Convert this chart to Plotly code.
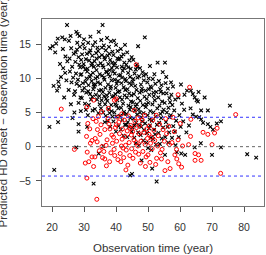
import plotly.graph_objects as go

# ---- data ----
black_pts = [
    (19.4,14.4),(20.2,14.7),(19.2,2.9),(20.7,-3.4),(21,13.8),(20.5,8.9),
    (21.3,15.1),(21.9,3.6),(22,9.5),(21.6,8.2),(22.2,8.8),(22.8,10.2),(22.5,12.1),(21.8,15.8),
    (23.2,16.0),(24,15.7),(24.7,17.8),(23.5,11.5),(24.2,13.2),(24.5,9.7),(23.8,7.2),(24.8,12.5),(24.1,10.8),(23.4,14.3),
    (25.3,15.5),(25.8,16.2),(26,14.4),(25.5,12.9),(26.3,11.7),(26.6,10.1),(25.2,8.3),(26.8,13.6),(26.1,9.4),(25.9,6.2),(26.9,7.6),(26.4,4.2),(25.6,11),
    (27,5),(27.6,-0.1),(28,16.5),(27.6,16.8),(28.6,16.2),(27.8,14.2),(28.3,13.1),(27.3,12.4),(28.8,11.6),(27.5,10.7),(28.1,9.8),(28.6,8.9),(27.2,8.1),(28.9,7.2),(28.3,6.4),(28.3,3.3),(28.3,2.2),(27.9,15.2),(28.5,12),(27.7,9.2),(28.9,10.5),(27.4,13.8),(28.7,14.6),(29,5.2),
    (29.7,15),(30.2,14.4),(29.4,13.5),(30.6,12.8),(29.9,12.1),(30.4,11.3),(29.2,10.6),(30.8,10),(29.6,9.3),(30.1,8.6),(30.7,7.9),(29.3,7.1),(30.3,6.3),(31,2.9),(29.8,11.7),(30.5,9.5),(29.5,8.2),(30.9,13.6),(30,15.7),(31,11),(29.1,12.7),(30.6,5.4),
    (31.3,15.2),(32,14.1),(32.6,13.3),(31.6,12.6),(32.3,11.9),(31.1,11.4),(32.8,10.8),(31.8,10.2),(32.4,9.6),(31.4,9),(32.9,8.4),(31.9,7.7),(32.2,6.9),(31.5,6.1),(32.7,5.3),(31.2,4.6),(32.5,12.2),(31.7,13.8),(32.1,10.5),(33,9.1),(31.3,8.1),(32.6,7.3),(33,-5.4),(32,16.1),(32.8,14.8),
    (34.6,16.8),(33.5,15.3),(34.2,14.5),(33.8,13.7),(34.8,13.1),(33.3,12.5),(34.4,11.9),(33.9,11.2),(34.9,10.6),(33.6,10),(34.3,9.4),(33.2,8.8),(34.7,8.2),(33.7,7.6),(34.1,6.9),(34.9,6.2),(33.4,5.5),(34.5,4.9),(34.6,-1),(33.9,12.9),(34.2,10.2),(33.5,9.1),(34.8,7.4),(33.1,11.7),(34.4,14),
    (35.8,17.8),(35.4,15.6),(36.2,14.8),(36.8,14.1),(35.6,13.4),(36.5,12.8),(35.2,12.2),(36.1,11.6),(36.9,11),(35.7,10.4),(36.4,9.8),(35.1,9.2),(36.7,8.6),(35.9,8),(36.3,7.4),(35.5,6.8),(36.6,6.2),(35.3,5.6),(36,5),(36.8,4.5),(36,0.1),(36.4,13.1),(35.8,11.9),(36.2,10.1),(35.4,8.3),(36.9,7),(35.6,14.5),(36.5,3.6),
    (37.2,15.9),(38.4,15.4),(37.8,14.6),(38.9,13.9),(37.4,13.3),(38.2,12.7),(37.6,12.1),(38.7,11.5),(37.1,10.9),(38.1,10.3),(38.6,9.7),(37.5,9.1),(38.3,8.5),(37.9,7.9),(38.8,7.3),(37.3,6.7),(38.5,6.1),(37.7,5.5),(38,4.9),(38.9,4.4),(37.4,3.8),(38.2,2.9),(38.8,12.3),(37.6,10.6),(38.4,8.8),(37.2,7.5),(38,11.2),(37.9,13.6),(38.6,5.2),
    (39.4,15.5),(40,14.9),(40.5,14),(39.2,13.4),(40.8,12.8),(39.7,12.2),(40.3,11.6),(39.1,11),(40.9,10.4),(39.6,9.8),(40.2,9.2),(39.9,8.6),(40.6,8),(39.3,7.4),(40.4,6.8),(39.8,6.2),(40.7,5.6),(39.5,5),(40.1,4.4),(39.2,3.7),(40.8,3),(40,2.2),(39.6,10.7),(40.4,12.9),(39.8,7.7),(40.6,9.6),(39.3,11.9),(40.2,6),
    (42.8,14.9),(41.5,14.3),(42.3,13.5),(41.2,12.9),(42.6,12.3),(41.8,11.7),(42.1,11.1),(41.4,10.5),(42.9,9.9),(41.7,9.3),(42.4,8.7),(41.1,8.1),(42.7,7.5),(41.9,6.9),(42.2,6.3),(41.6,5.7),(42.5,5.1),(41.3,4.5),(42,3.9),(42.8,3.2),(41.5,2.5),(42.3,1.6),(41.9,10.1),(42.6,11.5),(41.2,7.2),(42.4,4.8),(41.7,13.2),(42.9,8.3),
    (44.9,13.1),(43.5,13.8),(44.2,12.6),(43.2,12),(44.6,11.4),(43.8,10.8),(44.4,10.2),(43.1,9.6),(44.8,9),(43.6,8.4),(44.1,7.8),(43.4,7.2),(44.7,6.6),(43.9,6),(44.3,5.4),(43.3,4.8),(44.5,4.2),(43.7,3.6),(44,2.9),(44.9,2.2),(43.5,1.4),(44.4,-4.2),(44.2,9.3),(43.8,11.6),(44.6,5.8),(43.2,3.2),(44.8,7.5),
    (45,-4),(46.9,14.7),(46.5,12),(45.4,12.7),(46.2,11.3),(45.8,10.7),(46.7,10.1),(45.2,9.5),(46,8.9),(46.4,8.3),(45.6,7.7),(46.8,7.1),(45.3,6.5),(46.1,5.9),(45.9,5.3),(46.6,4.7),(45.5,4.1),(46.3,3.5),(45.1,2.8),(46.9,2.1),(45.7,1.3),(46.2,0.5),(45.4,9.9),(46.5,6.2),(45.8,3.1),(46.7,11.7),
    (48,-2),(49,16),(47.5,11.5),(48.3,10.9),(47.2,10.3),(48.7,9.7),(47.8,9.1),(48.1,8.5),(47.4,7.9),(48.9,7.3),(47.6,6.7),(48.4,6.1),(47.1,5.5),(48.6,4.9),(47.9,4.3),(48.2,3.7),(47.3,3.1),(48.8,2.4),(47.7,1.7),(48.5,0.9),(47.2,0.2),(48,8.1),(47.5,5),(48.6,10.4),(47.9,2.9),
    (50.6,11.8),(49.4,10.6),(50.2,10),(49.8,9.4),(50.8,8.8),(49.2,8.2),(50.4,7.6),(49.6,7),(50.1,6.4),(49.3,5.8),(50.7,5.2),(49.9,4.6),(50.5,4),(49.1,3.4),(50.3,2.7),(49.7,2),(50.9,1.3),(49.5,0.6),(50,-0.2),(50.2,8.4),(49.5,6.2),(50.6,3.1),
    (53,12.3),(51.3,-3.2),(52.7,-5.1),(51.5,9.9),(52.3,9.2),(51.1,8.6),(52.6,8),(51.8,7.4),(52.1,6.8),(51.4,6.2),(52.9,5.6),(51.7,5),(52.4,4.4),(51.2,3.8),(52.8,3.2),(51.9,2.5),(52.2,1.8),(51.6,1.1),(52.5,0.3),(51,-0.5),(52,10.6),(51.7,7.9),
    (55.3,12.3),(54.6,10.9),(53.4,9.6),(54.2,9),(53.8,8.4),(54.8,7.8),(53.2,7.2),(54.4,6.6),(53.6,6),(54.9,5.4),(53.9,4.8),(54.1,4.2),(53.5,3.5),(54.7,2.8),(53.3,2),(54.3,1.2),(53.7,0.4),(55.3,-1.2),(54,8),(54.5,5.1),
    (55.5,9.3),(56.2,8.5),(55.8,7.8),(56.7,7.1),(55.2,6.4),(56.4,5.7),(55.9,5),(56.8,4.3),(55.6,3.6),(56.1,2.9),(56.6,2.1),(55.4,1.4),(56.3,0.6),(56.9,6.5),(55.7,10.2),
    (57.8,8.8),(57.3,7.6),(58.5,6.9),(57.6,6.1),(58.2,5.3),(57.1,4.6),(58.8,3.8),(57.9,3),(58.4,2.2),(57.5,1.3),(58.6,0.2),(59,-0.8),(57.2,9.4),
    (60.3,9.1),(62.2,8.2),(59.5,7.2),(60.6,6.3),(61.3,5.4),(59.8,4.6),(61,3.7),(60.2,2.9),(62,2.1),(61.6,-1.2),(60.4,-1),(59.6,1.4),(61.4,7.6),
    (63.4,8.2),(64,7.7),(64.6,7.2),(65.2,6.8),(65.6,6.6),(63.3,5.6),(64,4.7),(65,4.4),(66,4.3),(64.6,-0.1),(66.5,0.5),(62.8,3.1),(65.8,8),
    (67.7,7.2),(66.6,5.3),(68.7,5.3),(66.6,4),(67.2,3.5),(68.7,3.3),(69.5,2.9),(70.3,2.5),(70,-1.2),(72.8,-0.1),(72.8,3.7),(71.5,3.4),
    (75.6,6),(81,-1.1),(83.8,-1.6),
]

red_pts = [
    (22.9,5.5),(27,-0.4),(30.9,-4.6),(34,-7.7),(30.9,5.8),(33,6.8),(39.5,6.8),(40,7),(46.3,12),(59.4,7.6),(63,8.7),(77.4,4.7),
    (72.7,-3.9),(63.3,1.5),(67.2,2.1),(68.7,1.8),(70.8,2),(71.6,2.7),(62.7,0.3),(70,0.3),(64.7,-1),(65.8,-1.2),(64.7,-2),(66.6,-2),(63.4,4),
    (30.4,-2.4),(31.5,-2.2),(32.5,-1.5),(33.4,-1.5),(33,-2.9),(32,0.5),(32.5,0.9),(33.5,1.2),(31.2,3.4),(31.8,2.6),(30.8,1.5),(32.8,4.1),(31,-0.8),
    (35,1.8),(34.2,2.5),(35.6,0),(34.8,-0.6),(35.3,3.2),(34.5,4.4),(35.8,-1.6),(33.8,3.7),(34.1,0.7),(35.5,5.1),
    (36.5,-1.8),(38,-2.2),(36.5,2.5),(37.2,1),(37.8,3.3),(36.9,0.2),(38.4,-0.9),(37.5,4.1),(38.7,1.7),(36.2,-0.7),(38.1,2.6),(37,-2.8),(38.9,0.5),(37.6,5.6),
    (40.6,-1.9),(41.5,-2.2),(39.4,-0.4),(40.2,0.8),(41.1,1.9),(39.8,2.8),(40.9,3.6),(41.7,0.1),(39.2,1.4),(40.5,4.3),(41.3,-1),(42,2.6),(39.6,-1.3),(41.8,4.8),(40.1,3.2),(41.9,1.1),
    (43.7,-2.7),(42.4,-1.6),(43.2,-0.5),(44.1,0.6),(42.8,1.5),(43.5,2.3),(44.6,3.1),(42.6,3.9),(44.3,-1.3),(43,0.2),(44.8,1.7),(43.9,4.5),(42.2,-0.2),(44.4,2.7),(43.1,-3.4),(44.9,-0.3),
    (45.3,-1.7),(46.1,-0.8),(46.8,0.1),(45.6,1),(47.2,1.9),(46.4,2.8),(45.9,3.7),(47.6,-2.4),(46.9,4.2),(45.2,2.2),(47.8,0.8),(47.1,-1.1),(46.3,0.6),(45.7,5.3),(47.4,3.1),
    (48.4,-0.7),(49.1,0.3),(49.8,1.2),(48.7,2.1),(50.4,3),(49.4,-1.5),(50,-1.2),(48.2,3.9),(50.8,0.5),(49.6,2.6),(48.9,4.6),(50.6,-2.3),(49.2,-2.9),(50.3,1.8),
    (52.7,-1.7),(51.3,-0.3),(52.1,0.9),(53.2,1.6),(51.8,2.4),(53.6,3.3),(52.4,-2.6),(51.5,3.9),(53,0.1),(53.9,-0.9),(52.6,4.6),(51.1,1.4),
    (56.2,-2.2),(56.9,-3.2),(55.3,-3.5),(54.4,-0.4),(55.1,0.8),(55.8,1.9),(56.5,3),(54.7,2.5),(55.5,4.1),(56.7,0.3),(54.2,-1.8),
    (58.4,-1.2),(59,-1.8),(59.6,-2.5),(60.5,-3),(57.5,0.6),(58.2,2.2),(59.4,1),(60.1,3.4),(57.8,4.3),(60.8,0.1),(58.9,-0.4),
]

x_ticks = [20, 30, 40, 50, 60, 70, 80]
y_ticks = [-5, 0, 5, 10, 15]
limit_lines = [4.3, -4.3]
ref_line = 0
x_title = "Observation time (year)"
y_title = "Predicted HD onset \u2212 observation time (year)"

FONT = "Liberation Sans, Arial, Helvetica, sans-serif"
TXT = "#333333"

fig = go.Figure()
fig.add_trace(go.Scatter(
    x=[p[0] for p in black_pts], y=[p[1] for p in black_pts], mode="markers",
    marker=dict(symbol="x-thin", size=3.6, line=dict(color="black", width=1.1)),
    showlegend=False, hoverinfo="skip"))
fig.add_trace(go.Scatter(
    x=[p[0] for p in red_pts], y=[p[1] for p in red_pts], mode="markers",
    marker=dict(symbol="circle-open", size=4, color="red", line=dict(color="red", width=1)),
    showlegend=False, hoverinfo="skip"))

for yv in limit_lines:
    fig.add_shape(type="line", xref="paper", x0=0, x1=1, yref="y", y0=yv, y1=yv,
                  line=dict(color="#3333ff", width=1, dash="3px,3px"))
fig.add_shape(type="line", xref="paper", x0=0, x1=1, yref="y", y0=ref_line, y1=ref_line,
              line=dict(color="#666666", width=1, dash="3px,3px"))

fig.update_layout(
    width=266, height=255,
    margin=dict(l=42, r=2, t=19, b=49),
    paper_bgcolor="white", plot_bgcolor="white",
    font=dict(family=FONT, color=TXT, size=10),
    xaxis=dict(range=[16.875, 86.25], tickvals=x_ticks, ticks="outside", ticklen=5,
               tickcolor="#555", showgrid=False, zeroline=False, showline=True,
               linecolor="#777", linewidth=1, mirror=True, ticklabelstandoff=6,
               tickfont=dict(size=10.5, color=TXT)),
    yaxis=dict(range=[-8.68, 18.68], tickvals=y_ticks, ticks="outside", ticklen=5,
               tickcolor="#555", showgrid=False, zeroline=False, showline=True,
               linecolor="#777", linewidth=1, mirror=True, ticklabelstandoff=3,
               tickfont=dict(size=10.5, color=TXT)),
    annotations=[
        dict(text=x_title, xref="paper", yref="paper", x=0.5, y=-0.225,
             xanchor="center", yanchor="middle", showarrow=False,
             font=dict(size=11.5, color=TXT, family=FONT)),
        dict(text=y_title, xref="paper", yref="paper", x=-0.18, y=0.5,
             xanchor="center", yanchor="middle", textangle=-90, showarrow=False,
             font=dict(size=11.5, color=TXT, family=FONT)),
    ],
)

fig.write_html("out.html")
